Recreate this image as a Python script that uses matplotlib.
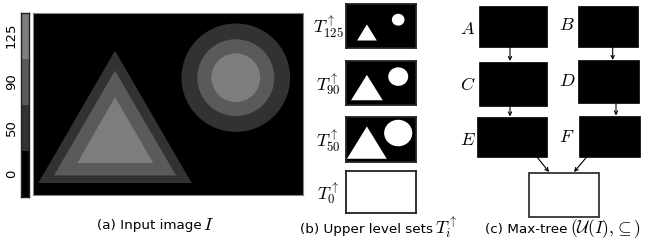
import numpy as np
import matplotlib
matplotlib.use("Agg")
import matplotlib.pyplot as plt
from matplotlib.patches import Polygon, Ellipse, Rectangle

plt.rcParams['mathtext.fontset'] = 'cm'

# Dati: livelli di grigio dell'immagine (0-255)
levels = [0, 50, 90, 125]
level_labels = ['0', '50', '90', '125']

# triangoli annidati (livelli 50, 90, 125), coordinate immagine 270x182
tri_apex_x = [81.7, 81.7, 81.7]
tri_apex_y = [37.4, 57.4, 84.0]
tri_base_y = [170.0, 162.4, 150.0]
tri_base_x0 = [5.0, 20.7, 44.0]
tri_base_x1 = [158.4, 142.7, 120.0]

# cerchi annidati
circ_cx, circ_cy = 202.5, 64.5
circ_r = [54.3, 38.5, 24.4]

img_w, img_h = 270, 182

# soglie degli insiemi di livello superiori
thresholds = [125, 90, 50, 0]

# nodi del max-tree
nodes = ['A', 'B', 'C', 'D', 'E', 'F', 'root']
edges = [('A', 'C'), ('B', 'D'), ('C', 'E'), ('D', 'F'), ('E', 'root'), ('F', 'root')]

W, H = 648, 244
fig = plt.figure(figsize=(W / 100, H / 100), dpi=100)

bg = fig.add_axes([0, 0, 1, 1])
bg.set_xlim(0, W)
bg.set_ylim(H, 0)
bg.axis('off')


def px_axes(x0, y0, x1, y1):
    return fig.add_axes([x0 / W, 1 - y1 / H, (x1 - x0) / W, (y1 - y0) / H])


def draw_image(ax, thr=None):
    ax.set_xlim(0, img_w)
    ax.set_ylim(img_h, 0)
    ax.set_xticks([])
    ax.set_yticks([])
    if thr is None:
        ax.set_facecolor('black')
    else:
        ax.set_facecolor('white' if thr <= levels[0] else 'black')
    for i, lev in enumerate(levels[1:]):
        if thr is None:
            col = str(lev / 255)
        elif lev >= thr:
            col = 'white'
        else:
            continue
        tri = [(tri_apex_x[i], tri_apex_y[i]), (tri_base_x0[i], tri_base_y[i]),
               (tri_base_x1[i], tri_base_y[i])]
        ax.add_patch(Polygon(tri, closed=True, fc=col, ec='none'))
        ax.add_patch(Ellipse((circ_cx, circ_cy), 2 * circ_r[i], 2 * circ_r[i], fc=col, ec='none'))


# (a) immagine
ax_img = px_axes(33.3, 13.3, 303.3, 195)
draw_image(ax_img)
for s in ax_img.spines.values():
    s.set_color('#888888')
    s.set_linewidth(0.8)

# barra dei colori
ax_cb = px_axes(20.7, 12.7, 29.3, 196.7)
ax_cb.imshow(np.array(levels[::-1]).reshape(-1, 1), cmap='gray', vmin=0, vmax=255,
             aspect='auto', extent=(0, 1, len(levels), 0), interpolation='nearest')
ax_cb.set_xticks([])
ax_cb.set_yticks(np.arange(len(levels)) + 0.5)
ax_cb.set_yticklabels(level_labels[::-1], rotation=90, va='center', fontsize=9.5)
ax_cb.tick_params(length=0, pad=2)
for s in ax_cb.spines.values():
    s.set_color('#222222')
    s.set_linewidth(1.0)

# (b) insiemi di livello
box_y = [(4, 48.3), (61, 105), (117.3, 161.7), (170.7, 213.3)]
for thr, (y0, y1) in zip(thresholds, box_y):
    ax = px_axes(345.7, y0, 415.7, y1)
    draw_image(ax, thr)
    for s in ax.spines.values():
        s.set_color('#222222')
        s.set_linewidth(1.3)
    bg.text(328, (y0 + y1) / 2 + 1, r'$T^{\uparrow}_{%d}$' % thr, fontsize=13,
            ha='center', va='center')

# (c) max-tree
pos = {
    'A': (479, 6, 546.7, 46.7), 'B': (577.7, 6, 638.3, 46.7),
    'C': (479, 61.7, 546.7, 106), 'D': (577.7, 60, 639.3, 103.3),
    'E': (477.3, 116.7, 546.7, 156.7), 'F': (579, 116, 640, 156.7),
    'root': (529, 172.7, 599, 216.7),
}
lab_xy = {'A': (468, 29), 'B': (567, 25), 'C': (468, 85), 'D': (567, 81),
          'E': (468, 140), 'F': (567, 137)}
for n in nodes:
    x0, y0, x1, y1 = pos[n]
    if n == 'root':
        bg.add_patch(Rectangle((x0, y0), x1 - x0, y1 - y0, fc='white', ec='#333333', lw=1.3))
    else:
        bg.add_patch(Rectangle((x0, y0), x1 - x0, y1 - y0, fc='black', ec='black', lw=0.5))
        bg.text(*lab_xy[n], r'$%s$' % n, fontsize=13, ha='center', va='center')

arrows = {
    ('A', 'C'): ((510, 47), (510, 61)),
    ('B', 'D'): ((612.7, 47), (612.7, 60)),
    ('C', 'E'): ((510, 106.5), (510, 116.5)),
    ('D', 'F'): ((616, 103.5), (616, 115.5)),
    ('E', 'root'): ((537, 157), (549, 172)),
    ('F', 'root'): ((586.7, 157), (574, 172)),
}
for e in edges:
    (xs, ys), (xe, ye) = arrows[e]
    bg.annotate('', xy=(xe, ye), xytext=(xs, ys),
                arrowprops=dict(arrowstyle='->', lw=0.8, color='black',
                                shrinkA=0, shrinkB=0, mutation_scale=6))

# didascalie: testo normale + parte matematica piu' grande
captions = [
    (96.7, 229.5, '(a) Input image', r'$I$', 13),
    (300, 233, '(b) Upper level sets', r'$T_i^{\uparrow}$', 13),
    (485, 233, '(c) Max-tree', r'$(\mathcal{U}(I),\!\subseteq)$', 12.5),
]
fig.canvas.draw()
renderer = fig.canvas.get_renderer()
for x, y, txt, mth, fs in captions:
    t = bg.text(x, y, txt, fontsize=9.7, ha='left', va='baseline')
    bb = t.get_window_extent(renderer=renderer)
    x_end = bg.transData.inverted().transform((bb.x1, bb.y0))[0]
    bg.text(x_end + 2, y, mth, fontsize=fs, ha='left', va='baseline')

fig.savefig('out.png', dpi=100)
